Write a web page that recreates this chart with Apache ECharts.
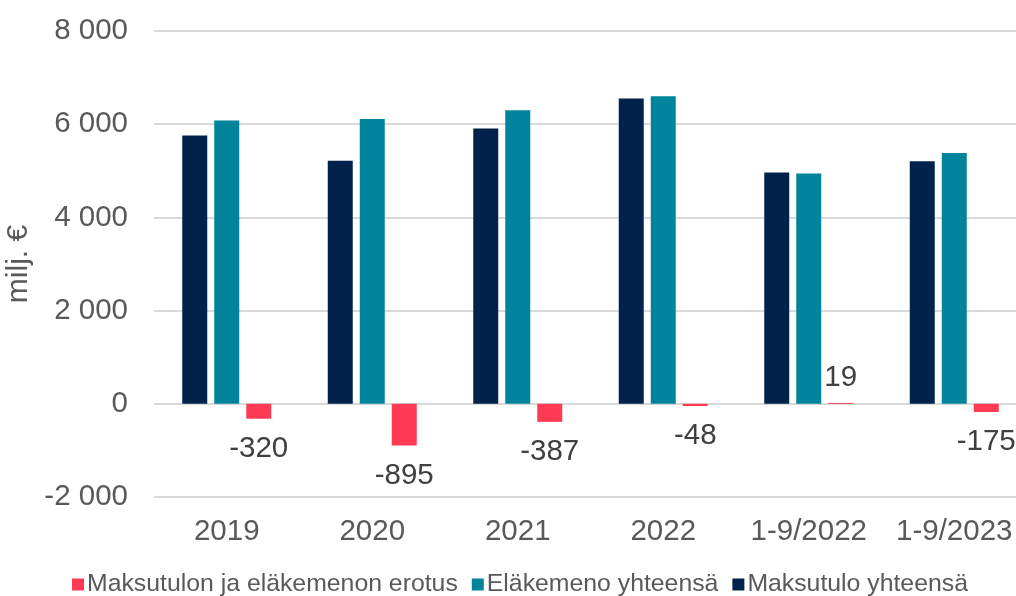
<!DOCTYPE html>
<html>
<head>
<meta charset="utf-8">
<script src="https://cdn.jsdelivr.net/npm/echarts@6/dist/echarts.min.js"></script>
<style>html,body{margin:0;padding:0;background:#fff;overflow:hidden;width:1016px;height:596px;}#c{width:1060px;height:596px;}</style>
</head>
<body>
<div id="c"></div>
<script>
const categories = ['2019', '2020', '2021', '2022', '1-9/2022', '1-9/2023'];
const maksutulo = [5757, 5215, 5910, 6550, 4963, 5205];
const elakemeno = [6077, 6110, 6297, 6598, 4944, 5380];
const erotus = [-320, -895, -387, -48, 19, -175];
const seriesNames = ['Maksutulo yhteensä', 'Eläkemeno yhteensä', 'Maksutulon ja eläkemenon erotus'];
const yTicks = [-2000, 0, 2000, 4000, 6000, 8000];

const font = 'Liberation Sans, Arial, sans-serif';
const chart = echarts.init(document.getElementById('c'), null, {renderer: 'canvas'});
const fmt = v => {
  const s = Math.abs(v).toString().replace(/\B(?=(\d{3})+(?!\d))/g, ' ');
  return (v < 0 ? '-' : '') + s;
};
chart.setOption({
  animation: false,
  backgroundColor: '#fff',
  textStyle: {fontFamily: font},
  grid: {left: 154, top: 31, width: 873, height: 466, containLabel: false, outerBoundsMode: 'none'},
  legend: {
    data: [seriesNames[2], seriesNames[1], seriesNames[0]],
    left: 72, top: 572, padding: 0,
    itemWidth: 12, itemHeight: 12, itemGap: 14,
    icon: 'rect',
    textStyle: {fontSize: 24.8, color: '#595959', fontFamily: font, padding: [0, 0, 0, -2]}
  },
  xAxis: {
    type: 'category',
    data: categories,
    axisLine: {show: false},
    axisTick: {show: false},
    axisLabel: {interval: 0, fontSize: 29.5, color: '#595959', margin: 20, fontFamily: font}
  },
  yAxis: {
    type: 'value',
    min: yTicks[0], max: yTicks[yTicks.length - 1], interval: 2000,
    name: 'milj. €',
    nameLocation: 'middle',
    nameRotate: 90,
    nameGap: 113,
    nameTextStyle: {fontSize: 30, color: '#595959', fontFamily: font},
    axisLine: {show: false},
    axisTick: {show: false},
    axisLabel: {fontSize: 29.5, color: '#595959', margin: 26, formatter: fmt, fontFamily: font},
    splitLine: {lineStyle: {color: '#D9D9D9', width: 2}}
  },
  series: [
    {name: seriesNames[0], type: 'bar', data: maksutulo, barWidth: 25, barGap: '28%',
     itemStyle: {color: '#00224B'}},
    {name: seriesNames[1], type: 'bar', data: elakemeno, barWidth: 25, barGap: '28%',
     itemStyle: {color: '#00849B'}},
    {name: seriesNames[2], type: 'bar', barWidth: 25, barGap: '28%',
     itemStyle: {color: '#FF3A55'},
     data: erotus.map(v => ({
       value: v,
       label: {show: true, position: v < 0 ? 'bottom' : 'top', distance: v < 0 ? 15 : 10,
               fontSize: 29.5, color: '#404040', fontFamily: font,
               formatter: p => fmt(p.value)}
     }))}
  ]
});
</script>
</body>
</html>
